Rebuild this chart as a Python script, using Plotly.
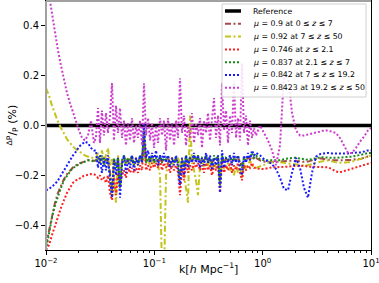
import plotly.graph_objects as go

# wavenumber grid k [h/Mpc]
k = [0.01, 0.01066, 0.01136, 0.01211, 0.01291, 0.01376, 0.01466, 0.01563, 0.01666, 0.01776,
     0.01892, 0.02017, 0.0215, 0.0229, 0.0244, 0.0260, 0.0277,
     0.0289, 0.0302, 0.0315, 0.0328, 0.0343, 0.0358, 0.0373, 0.0390, 0.0407, 0.0424,
     0.0443, 0.0462, 0.0482, 0.0503, 0.0525, 0.0547, 0.0571, 0.0597, 0.0622, 0.0649,
     0.0678, 0.0707, 0.0738, 0.0770, 0.0803, 0.0838, 0.0875, 0.0913, 0.0952, 0.0994,
     0.1037, 0.1082, 0.1129, 0.1178, 0.1229, 0.1282, 0.1338, 0.1396, 0.1456, 0.1520,
     0.1586, 0.1655, 0.1726, 0.1801, 0.1879, 0.1961, 0.2046, 0.2135, 0.2227, 0.2324,
     0.2425, 0.2530, 0.2640, 0.2755, 0.2874, 0.2999, 0.3129, 0.3265, 0.3407, 0.3555,
     0.3709, 0.3870, 0.4038, 0.4214, 0.4397, 0.4587, 0.4787, 0.4994, 0.5211, 0.5437,
     0.5674, 0.5920, 0.6177, 0.6445, 0.6725, 0.7017, 0.7322, 0.7640, 0.7972, 0.8318,
     0.8679,
     0.9449, 1.0287, 1.1199, 1.2193, 1.3274, 1.4452, 1.5734, 1.7130, 1.8649, 2.0303,
     2.2104, 2.4065, 2.6199, 2.8523, 3.1053, 3.3807, 3.6806, 4.0070, 4.3624, 4.7494,
     5.1706, 5.6292, 6.1285, 6.6721, 7.2639, 7.9082, 8.6096, 9.3733, 10.0]

k_ref = [0.01, 10.0]
ref_vals = [0.0, 0.0]

mu09 = [-0.48, -0.42, -0.36, -0.31, -0.27, -0.24, -0.215, -0.195, -0.18, -0.168,
        -0.16, -0.152, -0.148, -0.143, -0.14, -0.14, -0.142,
        -0.14, -0.135, -0.15, -0.13, -0.155, -0.135, -0.145, -0.19, -0.26, -0.14,
        -0.16, -0.135, -0.23, -0.14, -0.13, -0.15, -0.135, -0.14, -0.13, -0.155,
        -0.135, -0.15, -0.13, -0.14, -0.05, -0.145, -0.135, -0.14, -0.13, -0.145,
        -0.135, -0.14, -0.13, -0.145, -0.135, -0.14, -0.13, -0.15, -0.135, -0.145,
        -0.135, -0.145, -0.2, -0.135, -0.16, -0.13, -0.145, -0.135, -0.14, -0.13,
        -0.14, -0.13, -0.145, -0.135, -0.14, -0.13, -0.145, -0.135, -0.15, -0.13,
        -0.14, -0.13, -0.22, -0.13, -0.145, -0.135, -0.14, -0.13, -0.145, -0.135,
        -0.14, -0.13, -0.145, -0.16, -0.135, -0.14, -0.13, -0.135, -0.125, -0.135,
        -0.13,
        -0.14, -0.145, -0.148, -0.148, -0.146, -0.144, -0.142, -0.142, -0.142, -0.142,
        -0.144, -0.146, -0.145, -0.14, -0.134, -0.132, -0.135, -0.138, -0.14, -0.14,
        -0.14, -0.14, -0.14, -0.138, -0.135, -0.135, -0.13, -0.125, -0.12]

mu092 = [0.15, 0.12, 0.08, 0.045, 0.015, -0.01, -0.035, -0.055, -0.07, -0.085,
         -0.095, -0.105, -0.112, -0.12, -0.125, -0.13, -0.13,
         -0.13, -0.11, -0.15, -0.10, -0.14, -0.12, -0.09, -0.16, -0.13, -0.22,
         -0.31, -0.12, -0.2, -0.14, -0.13, -0.16, -0.14, -0.15, -0.13, -0.16,
         -0.14, -0.16, -0.13, -0.15, -0.08, -0.15, -0.14, -0.16, -0.13, -0.15,
         -0.14, -0.16, -0.2, -0.6, -0.6, -0.2, -0.15, -0.14, -0.16, -0.14,
         -0.15, -0.13, -0.16, -0.14, -0.2, -0.24, -0.31, 0.04, -0.15, -0.18,
         -0.22, -0.28, -0.16, -0.14, -0.17, -0.15, -0.16, -0.14, -0.18, -0.15,
         -0.17, -0.15, -0.2, -0.15, -0.17, -0.16, -0.15, -0.18, -0.17, -0.2,
         -0.16, -0.19, -0.17, -0.21, -0.15, -0.18, -0.16, -0.14, -0.16, -0.17,
         -0.17,
         -0.165, -0.158, -0.15, -0.148, -0.145, -0.148, -0.15, -0.15, -0.152, -0.155,
         -0.158, -0.162, -0.16, -0.155, -0.15, -0.145, -0.142, -0.14, -0.145, -0.148,
         -0.15, -0.15, -0.148, -0.145, -0.14, -0.138, -0.132, -0.125, -0.12]

mu0746 = [-0.5, -0.48, -0.44, -0.40, -0.37, -0.33, -0.30, -0.27, -0.25, -0.23,
          -0.22, -0.215, -0.205, -0.20, -0.198, -0.195, -0.196,
          -0.2, -0.21, -0.2, -0.22, -0.21, -0.23, -0.2, -0.27, -0.3, -0.2,
          -0.28, -0.19, -0.25, -0.2, -0.18, -0.21, -0.17, -0.19, -0.17, -0.19,
          -0.17, -0.19, -0.16, -0.18, -0.05, -0.18, -0.16, -0.18, -0.15, -0.17,
          -0.15, -0.17, -0.14, -0.18, -0.15, -0.17, -0.15, -0.19, -0.16, -0.18,
          -0.16, -0.19, -0.28, -0.17, -0.22, -0.15, -0.19, -0.16, -0.18, -0.15,
          -0.17, -0.15, -0.18, -0.16, -0.19, -0.15, -0.18, -0.16, -0.2, -0.16,
          -0.18, -0.16, -0.27, -0.15, -0.19, -0.16, -0.18, -0.15, -0.19, -0.16,
          -0.18, -0.15, -0.19, -0.22, -0.16, -0.18, -0.16, -0.17, -0.15, -0.17,
          -0.17,
          -0.175, -0.175, -0.17, -0.168, -0.168, -0.168, -0.167, -0.165, -0.163, -0.162,
          -0.16, -0.162, -0.165, -0.166, -0.167, -0.167, -0.167, -0.168, -0.175, -0.185,
          -0.188, -0.183, -0.178, -0.172, -0.168, -0.163, -0.158, -0.152, -0.15]

mu0837 = [-0.5, -0.43, -0.37, -0.32, -0.28, -0.25, -0.22, -0.20, -0.185, -0.17,
          -0.165, -0.155, -0.15, -0.145, -0.14, -0.14, -0.145,
          -0.14, -0.13, -0.15, -0.12, -0.16, -0.13, -0.15, -0.2, -0.28, -0.13,
          -0.17, -0.13, -0.25, -0.14, -0.12, -0.15, -0.13, -0.14, -0.12, -0.16,
          -0.13, -0.15, -0.12, -0.14, -0.02, -0.15, -0.13, -0.14, -0.12, -0.15,
          -0.13, -0.14, -0.12, -0.15, -0.13, -0.14, -0.12, -0.16, -0.13, -0.15,
          -0.13, -0.15, -0.22, -0.13, -0.17, -0.12, -0.15, -0.13, -0.14, -0.12,
          -0.14, -0.12, -0.15, -0.13, -0.14, -0.12, -0.15, -0.13, -0.16, -0.12,
          -0.14, -0.12, -0.24, -0.12, -0.15, -0.13, -0.14, -0.12, -0.15, -0.13,
          -0.14, -0.12, -0.15, -0.17, -0.13, -0.14, -0.12, -0.13, -0.11, -0.13,
          -0.12,
          -0.135, -0.14, -0.14, -0.14, -0.14, -0.14, -0.135, -0.132, -0.13, -0.13,
          -0.132, -0.135, -0.138, -0.135, -0.13, -0.128, -0.128, -0.13, -0.13, -0.13,
          -0.128, -0.128, -0.126, -0.125, -0.122, -0.12, -0.115, -0.11, -0.11]

mu0842 = [-0.26, -0.255, -0.245, -0.235, -0.22, -0.20, -0.175, -0.155, -0.14, -0.12,
          -0.105, -0.085, -0.075, -0.065, -0.07, -0.09, -0.1,
          -0.10, -0.17, -0.12, -0.19, -0.13, -0.18, -0.12, -0.22, -0.29, -0.14,
          -0.2, -0.13, -0.29, -0.16, -0.12, -0.19, -0.14, -0.17, -0.12, -0.18,
          -0.13, -0.16, -0.12, -0.15, 0.01, -0.13, -0.1, -0.15, -0.11, -0.14,
          -0.1, -0.16, -0.12, -0.14, -0.11, -0.15, -0.12, -0.17, -0.13, -0.16,
          -0.12, -0.17, -0.24, -0.13, -0.2, -0.12, -0.17, -0.13, -0.15, -0.11,
          -0.15, -0.12, -0.17, -0.13, -0.16, -0.11, -0.15, -0.12, -0.18, -0.13,
          -0.16, -0.12, -0.27, -0.1, -0.17, -0.13, -0.15, -0.12, -0.16, -0.11,
          -0.15, -0.12, -0.17, -0.2, -0.12, -0.15, -0.11, -0.14, -0.1, -0.12,
          -0.11,
          -0.12, -0.135, -0.145, -0.155, -0.175, -0.21, -0.255, -0.26, -0.19, -0.13,
          -0.17, -0.25, -0.29, -0.19, -0.125, -0.115, -0.112, -0.11, -0.112, -0.112,
          -0.115, -0.115, -0.112, -0.11, -0.11, -0.108, -0.105, -0.1, -0.1]

mu08423 = [0.6, 0.52, 0.44, 0.37, 0.30, 0.24, 0.18, 0.13, 0.09, 0.05,
           0.015, -0.02, -0.05, -0.06, -0.04, 0.02, -0.07,
           -0.05, 0.07, -0.07, 0.06, -0.04, 0.05, -0.03, 0.04, 0.17, -0.06,
           0.08, -0.03, 0.07, -0.05, 0.02, -0.08, 0.01, -0.06, 0.03, -0.07,
           0.0, -0.05, 0.02, -0.08, 0.17, -0.04, 0.03, -0.06, 0.01, -0.09,
           0.0, -0.07, 0.03, -0.04, 0.02, -0.1, 0.03, -0.06, 0.01, -0.08,
           0.02, -0.05, 0.19, -0.03, 0.04, -0.08, 0.0, -0.05, 0.05, -0.07,
           0.01, -0.04, 0.03, -0.09, 0.02, -0.03, 0.05, -0.06, 0.02, 0.11,
           -0.05, 0.04, -0.08, 0.17, -0.02, 0.06, -0.07, 0.04, -0.03, 0.18,
           -0.05, 0.03, -0.06, 0.25, -0.03, 0.04, -0.08, 0.02, -0.05, -0.01,
           -0.04,
           0.0, -0.03, -0.06, -0.1, -0.16, -0.08, 0.2, 0.2, 0.05, -0.02,
           -0.04, -0.04, -0.035, -0.03, -0.028, -0.025, -0.02, -0.02, -0.025, -0.03,
           -0.05, -0.08, -0.11, -0.11, -0.09, -0.065, -0.045, -0.02, -0.01]

DOT = "2px,2px"
DASHDOT = "6px,2.5px,2px,2.5px"

series = [
    ("Reference", k_ref, ref_vals, "black", "solid", 3.5),
    ("<i>μ</i> = 0.9 at 0 ≤ <i>z</i> ≤ 7", k, mu09, "#a84a4a", DASHDOT, 2),
    ("<i>μ</i> = 0.92 at 7 ≤ <i>z</i> ≤ 50", k, mu092, "#c4c41c", DASHDOT, 2),
    ("<i>μ</i> = 0.746 at <i>z</i> ≤ 2.1", k, mu0746, "#ff2020", DOT, 2),
    ("<i>μ</i> = 0.837 at 2.1 ≤ <i>z</i> ≤ 7", k, mu0837, "#1a8a1a", DOT, 2),
    ("<i>μ</i> = 0.842 at 7 ≤ <i>z</i> ≤ 19.2", k, mu0842, "#1a1aff", DOT, 2),
    ("<i>μ</i> = 0.8423 at 19.2 ≤ <i>z</i> ≤ 50", k, mu08423, "#cc3ccc", DOT, 2),
]

fig = go.Figure()
for label, xs, vals, color, dash, w in series:
    fig.add_trace(go.Scatter(x=xs, y=vals, mode="lines", name=label, showlegend=False,
                             hoverinfo="skip", line=dict(color=color, width=w, dash=dash)))

# --- legend drawn as a box with samples (paper coordinates) ---
W, H = 379, 283
ML, MR, MT, MB = 46, 8, 1, 33
PW, PH = W - ML - MR, H - MT - MB


def px(xp):
    return (xp - ML) / PW


def py(yp):
    return 1 - (yp - MT) / PH


shapes = [
    dict(type="rect", xref="paper", yref="paper", x0=px(222), x1=px(366), y0=py(97), y1=py(4),
         fillcolor="rgba(255,255,255,0.85)", line=dict(color="#d0d0d0", width=1), layer="above"),
]
annotations = []
for i, (label, xs, vals, color, dash, w) in enumerate(series):
    yy = py(11 + 12.8 * i)
    shapes.append(dict(type="line", xref="paper", yref="paper", x0=px(225), x1=px(241),
                       y0=yy, y1=yy, line=dict(color=color, width=w, dash=dash), layer="above"))
    annotations.append(dict(text=label, xref="paper", yref="paper", x=px(251), y=yy,
                            xanchor="left", yanchor="middle", showarrow=False,
                            font=dict(size=7.8, family="DejaVu Sans", color="black")))

# axis frame (grey left/top spines as in the reference)
shapes += [
    dict(type="line", xref="paper", yref="paper", x0=0, x1=0, y0=0, y1=1,
         line=dict(color="#a0a0a0", width=2), layer="above"),
    dict(type="line", xref="paper", yref="paper", x0=0, x1=1, y0=1, y1=1,
         line=dict(color="#a0a0a0", width=2), layer="above"),
]

annotations += [
    dict(text="k[<i>h</i> Mpc<sup>−1</sup>]", xref="paper", yref="paper", x=0.5, y=py(268),
         xanchor="center", yanchor="middle", showarrow=False,
         font=dict(size=11, family="DejaVu Sans", color="black")),
    dict(text="<sup>ΔP</sup>/<sub>P</sub> (%)", xref="paper", yref="paper", x=px(12), y=0.5,
         xanchor="center", yanchor="middle", showarrow=False, textangle=-90,
         font=dict(size=11, family="DejaVu Sans", color="black")),
]

minor_vals = [m * 10 ** e for e in (-2, -1, 0) for m in range(2, 10)]

fig.update_layout(
    width=W, height=H,
    margin=dict(l=ML, r=MR, t=MT, b=MB, autoexpand=False),
    paper_bgcolor="white", plot_bgcolor="white",
    font=dict(family="DejaVu Sans", size=10, color="black"),
    showlegend=False,
    hovermode=False,
    xaxis=dict(type="log", range=[-2, 1], showgrid=False, zeroline=False, automargin=False,
               showline=True, linecolor="black", linewidth=1, mirror=True,
               ticks="outside", ticklen=4, tickcolor="black", ticklabeloverflow="allow",
               tickvals=[0.01, 0.1, 1, 10],
               ticktext=["10<sup>−2</sup>", "10<sup>−1</sup>", "10<sup>0</sup>", "10<sup>1</sup>"],
               minor=dict(tickvals=minor_vals, ticks="outside", ticklen=2, tickcolor="black")),
    yaxis=dict(range=[-0.5, 0.5], showgrid=False, zeroline=False, automargin=False,
               showline=True, linecolor="black", linewidth=1, mirror=True,
               ticks="outside", ticklen=4, tickcolor="black",
               tickvals=[-0.4, -0.2, 0.0, 0.2, 0.4],
               ticktext=["−0.4", "−0.2", "0.0", "0.2", "0.4"]),
    shapes=shapes,
    annotations=annotations,
)

fig.write_html("out.html", config={"displayModeBar": False, "staticPlot": True},
               post_script="document.body.style.margin='0';document.body.style.overflow='hidden';")
